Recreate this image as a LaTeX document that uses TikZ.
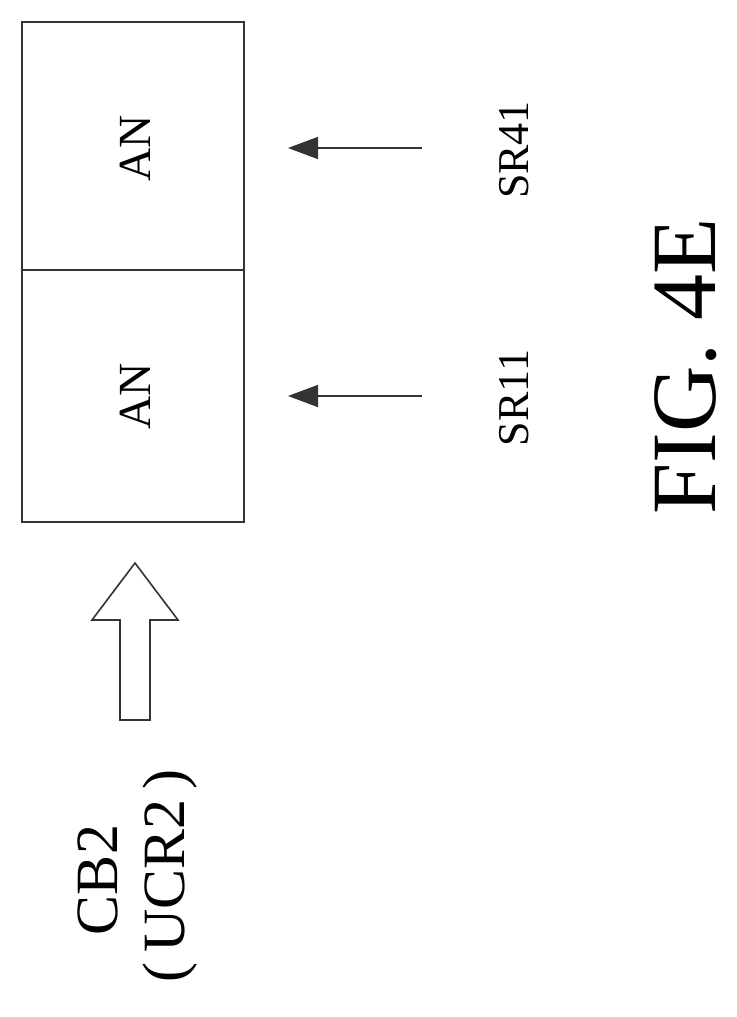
\documentclass[tikz,border=0pt]{standalone}
\usepackage{fontspec}
\setmainfont{Liberation Serif}
\usetikzlibrary{arrows.meta}
\begin{document}
\begin{tikzpicture}[x=1pt,y=-1pt,
  lbl/.style={rotate=90,inner sep=0pt},
  thin/.style={draw=black!80,line width=1.6pt},
  arr/.style={thin,-{Triangle[length=30pt,width=22pt]}}]
\useasboundingbox (0,0) rectangle (736,1017);
\node[thin,minimum width=222pt,minimum height=248pt,inner sep=0pt] (b2) at (133,146) {};
\node[thin,minimum width=222pt,minimum height=252pt,inner sep=0pt] (b1) at (133,396) {};
\node[lbl,font=\fontsize{46}{46}\selectfont] (an2) at (135,148) {AN};
\node[lbl,font=\fontsize{46}{46}\selectfont] (an1) at (135,396) {AN};
\coordinate (s2) at (422,148); \coordinate (t2) at (288,148);
\coordinate (s1) at (422,396); \coordinate (t1) at (288,396);
\draw[arr] (s2) -- (t2);
\draw[arr] (s1) -- (t1);
\node[lbl,font=\fontsize{44}{44}\selectfont] (sr41) at (514,150) {SR41};
\node[lbl,font=\fontsize{44}{44}\selectfont] (sr11) at (514,398) {SR11};
\node[lbl,font=\fontsize{92}{92}\selectfont] (fig) at (686,366) {FIG. 4E};
\draw[thin,fill=white] (120,720) -- (120,620) -- (92,620) -- (135,563) -- (178,620) -- (150,620) -- (150,720) -- cycle;
\node[lbl,font=\fontsize{60}{60}\selectfont] (cb) at (98,880) {CB2};
\node[lbl,font=\fontsize{60}{60}\selectfont] (ucr) at (170,876) {(\,UCR2\,)};
\end{tikzpicture}
\end{document}
